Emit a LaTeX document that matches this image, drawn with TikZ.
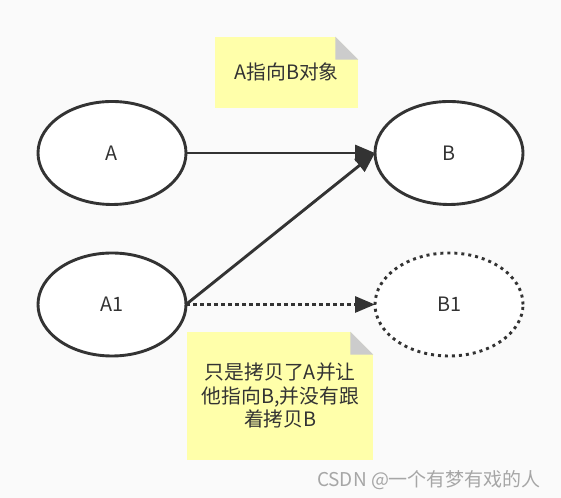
\documentclass[tikz,border=0pt]{standalone}
\usepackage{fontspec}
\setmainfont{Noto Sans CJK SC}
\usepackage{xcolor}
\usepackage{tikz}
\usetikzlibrary{arrows.meta,positioning,shapes.geometric}

\definecolor{ink}{HTML}{333333}
\definecolor{pagebg}{HTML}{FAFAFA}
\definecolor{notefill}{HTML}{FFFFAA}
\definecolor{foldgray}{HTML}{CCCCCC}
\definecolor{markgray}{HTML}{A6A6A6}

\begin{document}
\begin{tikzpicture}[
  x=1bp, y=1bp,
  node distance=48.5bp and 189bp,
  >={Triangle[length=20bp,width=16bp]},
  every node/.style={font=\fontsize{19.8bp}{23.4bp}\selectfont, text=ink},
  objnode/.style={ellipse, draw=ink, line width=2.9bp, fill=white,
    minimum width=148bp, minimum height=103bp, inner sep=0pt, outer sep=0pt},
  copynode/.style={objnode, dash pattern=on 3bp off 4bp},
  notebox/.style={rectangle, fill=notefill, inner sep=0pt, align=center,
    path picture={
      \fill[pagebg] (path picture bounding box.north east)
        -- ++(-23bp,0bp) -- ++(23bp,-23bp) -- cycle;
      \fill[foldgray] (path picture bounding box.north east) ++(-23bp,0bp)
        -- ++(0bp,-23bp) -- ++(23bp,0bp) -- cycle;
    }},
  arr/.style={->, draw=ink, line width=2.9bp},
]

% Page
\path[fill=pagebg, use as bounding box] (0,0) rectangle (561,498);

% Objects
\node[objnode] (A) at (112,345) {A};
\node[objnode, right=of A] (B) {B};
\node[objnode, below=of A] (A1) {A1};
\node[copynode, below=of B] (B1) {B1};

% Arrows
\draw[arr] (A) -- (B);
\draw[arr] (A1.east) -- (B.west);
\draw[arr, dash pattern=on 4bp off 3bp] (A1) -- (B1);

% Notes
\node[notebox, minimum width=143.6bp, minimum height=71bp] (ptr) at (286.5,425.8)
  {A指向B对象};
\node[notebox, minimum width=186bp, minimum height=128.3bp] (shallow) at (280.3,102.2)
  {只是拷贝了A并让\\他指向B,并没有跟\\着拷贝B};

% Watermark
\node[font=\fontsize{19bp}{21bp}\selectfont, text=markgray] (mark) at (429,18)
  {CSDN @一个有梦有戏的人};

\end{tikzpicture}
\end{document}
